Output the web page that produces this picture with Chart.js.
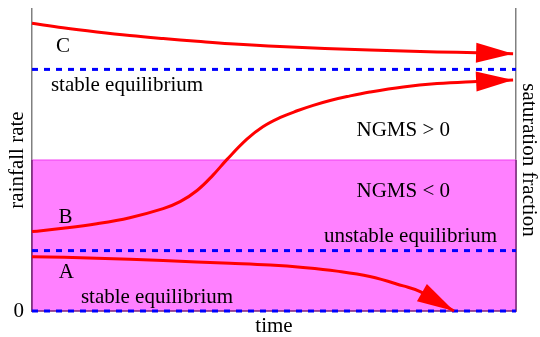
<!DOCTYPE html>
<html>
<head>
<meta charset="utf-8">
<script src="https://cdn.jsdelivr.net/npm/chart.js@4/dist/chart.umd.min.js"></script>
<style>
  html, body { margin: 0; padding: 0; background: #fff; }
</style>
</head>
<body>
<canvas id="chart" width="540" height="337"></canvas>
<script>
// time and rainfall rate, both on an arbitrary 0-100 scale
const timeC = [0, 6.4, 13.4, 20.2, 27.1, 34.1, 40.9, 51.2, 69.8, 83.7, 91.9, 99.4];
const rainC = [95.3, 93.8, 92.4, 91.2, 90.2, 89.3, 88.5, 87.6, 86.4, 85.8, 85.5, 85.2];

const timeB = [0, 6.4, 13.4, 20.2, 27.1, 30.6, 34.1, 37.4, 40.3, 44.4, 47.7, 51.2, 54.8, 58.1, 61.6, 65.1, 69.8, 76.7, 83.7, 91.9, 99.4];
const rainB = [26.3, 27.4, 28.9, 30.9, 33.9, 36.2, 39.9, 45.0, 50.2, 56.9, 61.0, 64.0, 66.3, 68.1, 69.7, 71.0, 72.5, 74.2, 75.3, 76.0, 76.5];

const timeA = [0, 13.4, 27.1, 40.9, 49.2, 56.0, 63.0, 69.8, 76.7, 80.2, 87.2];
const rainA = [18.0, 17.5, 16.7, 15.8, 15.2, 14.4, 13.2, 11.4, 8.3, 6.4, 0];

const timeRange = [0, 100];
const rainRange = [0, 100];
const equilibria = [80, 20, 0];   // stable, unstable, stable
const ngmsZero = 50;              // NGMS changes sign here
const yTicks = [0];

const serif = '"Liberation Serif", "Times New Roman", serif';
Chart.defaults.font.family = serif;
Chart.defaults.color = '#000';

function pts(xs, ys) {
  return xs.map((x, i) => ({ x: x, y: ys[i] }));
}
function level(v) {
  return [{ x: timeRange[0], y: v }, { x: timeRange[1], y: v }];
}

// text notes inside the plot, in data units
const notes = [
  { text: 'C', x: 6.4, y: 85.9, align: 'center' },
  { text: 'stable equilibrium', x: 3.9, y: 73.0, align: 'left' },
  { text: 'NGMS > 0', x: 76.7, y: 57.8, align: 'center' },
  { text: 'NGMS < 0', x: 76.7, y: 37.9, align: 'center' },
  { text: 'B', x: 6.9, y: 29.1, align: 'center' },
  { text: 'unstable equilibrium', x: 78.2, y: 22.9, align: 'center' },
  { text: 'A', x: 7.1, y: 10.9, align: 'center' },
  { text: 'stable equilibrium', x: 10.1, y: 2.5, align: 'left' }
];

const notesPlugin = {
  id: 'notes',
  afterDatasetsDraw(chart) {
    const ctx = chart.ctx;
    const xs = chart.scales.x, ys = chart.scales.y;
    ctx.save();
    ctx.font = '21px ' + serif;
    ctx.fillStyle = '#000';
    ctx.textBaseline = 'alphabetic';
    notes.forEach(n => {
      ctx.textAlign = n.align;
      ctx.fillText(n.text, xs.getPixelForValue(n.x), ys.getPixelForValue(n.y));
    });
    ctx.restore();
  }
};

// filled arrowheads at the end of each trajectory
const arrowPlugin = {
  id: 'arrows',
  afterDatasetsDraw(chart) {
    const ctx = chart.ctx;
    const len = 37, half = 10;
    chart.data.datasets.forEach((ds, i) => {
      if (!ds.arrow) return;
      const pts = chart.getDatasetMeta(i).data;
      const tip = pts[pts.length - 1];
      let back = pts[0];
      for (let k = pts.length - 2; k >= 0; k--) {
        if (Math.hypot(tip.x - pts[k].x, tip.y - pts[k].y) >= 30) { back = pts[k]; break; }
      }
      const a = Math.atan2(tip.y - back.y, tip.x - back.x);
      const bx = tip.x - len * Math.cos(a), by = tip.y - len * Math.sin(a);
      ctx.save();
      ctx.fillStyle = ds.borderColor;
      ctx.beginPath();
      ctx.moveTo(tip.x, tip.y);
      ctx.lineTo(bx - half * Math.sin(a), by + half * Math.cos(a));
      ctx.lineTo(bx + half * Math.sin(a), by - half * Math.cos(a));
      ctx.closePath();
      ctx.fill();
      ctx.restore();
    });
  }
};

const dashed = v => ({
  data: level(v),
  borderColor: '#0000ff',
  borderWidth: 3,
  borderDash: [6, 6],
  pointRadius: 0,
  clip: false,
  order: 3
});

const curve = (xs, ys) => ({
  data: pts(xs, ys),
  borderColor: '#ff0000',
  borderWidth: 3,
  pointRadius: 0,
  tension: 0.4,
  clip: false,
  arrow: true,
  order: 1
});

new Chart(document.getElementById('chart'), {
  type: 'line',
  data: {
    datasets: [
      // NGMS < 0 region
      {
        data: level(ngmsZero),
        borderColor: '#f040f0',
        borderWidth: 1,
        backgroundColor: '#ff80ff',
        fill: 'origin',
        pointRadius: 0,
        clip: false,
        order: 5
      },
      {
        data: [
          { x: timeRange[0], y: ngmsZero }, { x: timeRange[0], y: rainRange[0] },
          { x: timeRange[1], y: rainRange[0] }, { x: timeRange[1], y: ngmsZero }
        ],
        borderColor: '#7a207a',
        borderWidth: 1.5,
        pointRadius: 0,
        clip: false,
        order: 4
      },
      ...equilibria.map(dashed),
      curve(timeC, rainC),
      curve(timeB, rainB),
      curve(timeA, rainA)
    ]
  },
  options: {
    responsive: false,
    animation: false,
    events: [],
    layout: { padding: { top: 9, left: 0, right: 0, bottom: 0 } },
    plugins: { legend: { display: false }, tooltip: { enabled: false } },
    scales: {
      x: {
        type: 'linear',
        min: timeRange[0],
        max: timeRange[1],
        grid: { display: false, drawTicks: false },
        border: { display: false },
        ticks: { display: false },
        title: {
          display: true, text: 'time',
          font: { size: 21, lineHeight: 1 },
          padding: { top: 0, bottom: 0 }
        },
        afterFit: s => { s.height = 26; }
      },
      y: {
        position: 'left',
        min: rainRange[0],
        max: rainRange[1],
        grid: { display: false, drawTicks: false },
        border: { display: true, color: '#808080', width: 1.5 },
        afterBuildTicks: s => { s.ticks = yTicks.map(v => ({ value: v })); },
        ticks: { padding: 8, font: { size: 21 } },
        title: {
          display: true, text: 'rainfall rate',
          font: { size: 21, lineHeight: 1 },
          padding: { top: 7, bottom: 0 }
        },
        afterFit: s => { s.width = 32; s.paddingTop = 0; s.paddingBottom = 0; }
      },
      y2: {
        position: 'right',
        min: rainRange[0],
        max: rainRange[1],
        grid: { display: false, drawTicks: false },
        border: { display: true, color: '#808080', width: 1.5 },
        ticks: { display: false },
        title: {
          display: true, text: 'saturation fraction',
          font: { size: 21, lineHeight: 1 },
          padding: { top: 1, bottom: 0 }
        },
        afterFit: s => { s.width = 24; s.paddingTop = 0; s.paddingBottom = 0; }
      }
    }
  },
  plugins: [notesPlugin, arrowPlugin]
});
</script>
</body>
</html>
